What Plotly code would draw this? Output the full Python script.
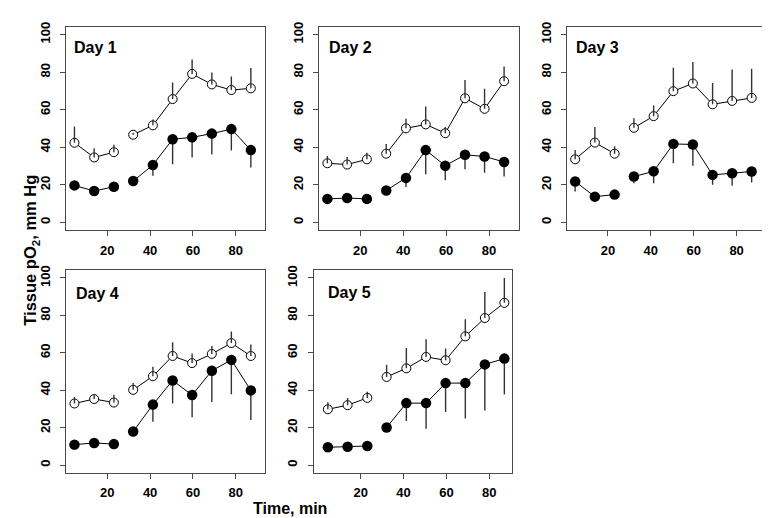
import plotly.graph_objects as go

W, H = 770, 518

time_min = [4.7, 13.9, 23.1, 32.1, 41.3, 50.5, 59.6, 68.8, 77.9, 87.0]
day_labels = ["Day 1", "Day 2", "Day 3", "Day 4", "Day 5"]

open_day1 = [42.4, 34.6, 37.4, 46.7, 51.7, 65.7, 79.1, 73.5, 70.5, 71.4]
open_err_day1 = [8.7, 4.9, 3.9, 1.0, 3.1, 8.8, 7.7, 6.3, 7.2, 10.8]
filled_day1 = [19.7, 16.7, 19.0, 22.0, 30.6, 44.3, 45.3, 47.3, 49.7, 38.5]
filled_err_day1 = [1.0, 1.0, 1.0, 2.3, 5.8, 13.4, 10.7, 11.1, 11.4, 9.2]

open_day2 = [31.5, 30.8, 33.6, 36.6, 50.1, 52.2, 47.5, 66.1, 60.5, 75.2]
open_err_day2 = [3.8, 4.0, 3.5, 5.1, 5.1, 9.5, 3.3, 9.8, 10.7, 7.8]
filled_day2 = [12.5, 13.0, 12.5, 17.0, 23.7, 38.5, 30.2, 36.0, 35.1, 32.2]
filled_err_day2 = [1.0, 1.0, 1.0, 1.5, 4.9, 12.8, 7.7, 7.7, 8.7, 7.8]

open_day3 = [33.6, 42.5, 36.6, 50.4, 56.6, 69.9, 74.0, 62.9, 64.7, 66.3]
open_err_day3 = [4.9, 8.3, 4.0, 5.1, 5.6, 12.5, 11.4, 11.4, 16.8, 15.6]
filled_day3 = [21.8, 13.7, 14.8, 24.4, 27.2, 41.8, 41.5, 25.3, 26.2, 27.1]
filled_err_day3 = [5.3, 1.0, 1.0, 3.5, 6.3, 10.3, 11.3, 5.3, 6.7, 5.8]

open_day4 = [32.9, 35.3, 33.4, 40.2, 47.5, 58.3, 54.5, 59.4, 65.2, 58.3]
open_err_day4 = [3.5, 2.5, 4.2, 3.6, 5.0, 7.3, 5.1, 4.2, 6.2, 6.2]
filled_day4 = [10.9, 11.8, 11.2, 17.9, 32.3, 45.2, 37.4, 50.4, 56.2, 39.9]
filled_err_day4 = [1.0, 1.0, 1.0, 2.6, 9.1, 12.3, 11.9, 16.7, 18.4, 15.8]

open_day5 = [29.8, 32.0, 35.9, 47.1, 51.7, 57.8, 56.0, 68.8, 78.6, 86.7]
open_err_day5 = [3.8, 3.9, 3.3, 6.5, 10.8, 9.5, 6.3, 9.1, 13.9, 13.3]
filled_day5 = [9.5, 9.8, 10.2, 20.1, 33.1, 33.1, 43.8, 43.8, 53.8, 56.9]
filled_err_day5 = [1.0, 1.0, 1.0, 1.5, 9.6, 13.7, 15.4, 18.9, 24.7, 19.2]

x_tick_vals = [20, 40, 60, 80]
y_tick_vals = [0, 20, 40, 60, 80, 100]

open_series = [open_day1, open_day2, open_day3, open_day4, open_day5]
open_errs = [open_err_day1, open_err_day2, open_err_day3, open_err_day4, open_err_day5]
filled_series = [filled_day1, filled_day2, filled_day3, filled_day4, filled_day5]
filled_errs = [filled_err_day1, filled_err_day2, filled_err_day3, filled_err_day4, filled_err_day5]

# panel boxes in pixels: (left, right, top, bottom)
boxes = [(58.3, 257.0, 14.3, 219.0), (311.0, 510.7, 14.3, 219.0), (559.0, 758.0, 14.3, 219.0),
         (58.3, 257.0, 260.0, 464.0), (305.7, 504.3, 260.0, 464.0)]
xranges = [[0.9, 93.6], [0.8, 93.8], [0.9, 93.7], [0.9, 93.6], [-1.9, 90.7]]
label_pos = [(64, 34.5), (319, 34.5), (566, 34.5), (66, 283), (318, 282)]

segments = [(0, 3), (3, 10)]
FONT = "Liberation Sans, Arial, sans-serif"
ERRC = "#333333"
BOXC = "#4a4a4a"

fig = go.Figure()
layout = dict(width=W, height=H, margin=dict(l=0, r=0, t=0, b=0),
              paper_bgcolor="white", plot_bgcolor="white", showlegend=False,
              font=dict(family=FONT, color="black"))
annotations = []

for i in range(5):
    ax = "" if i == 0 else str(i + 1)
    xa, ya = "x" + ax, "y" + ax
    n = len(time_min)
    # filled-series error bars (below)
    fig.add_trace(go.Scatter(x=time_min, y=filled_series[i], xaxis=xa, yaxis=ya, mode="markers",
                             marker=dict(size=1, color="rgba(0,0,0,0)"), hoverinfo="skip",
                             error_y=dict(type="data", symmetric=False, array=[0] * n,
                                          arrayminus=filled_errs[i], width=0, color=ERRC, thickness=1.4)))
    for (a, b) in segments:
        fig.add_trace(go.Scatter(x=time_min[a:b], y=filled_series[i][a:b], xaxis=xa, yaxis=ya,
                                 mode="lines+markers", line=dict(color="black", width=1),
                                 marker=dict(symbol="circle", size=10.5, color="black",
                                             line=dict(width=0))))
        fig.add_trace(go.Scatter(x=time_min[a:b], y=open_series[i][a:b], xaxis=xa, yaxis=ya,
                                 mode="lines+markers", line=dict(color="black", width=1),
                                 marker=dict(symbol="circle", size=9, color="white",
                                             line=dict(width=1, color="black"))))
    # open-series error bars (on top, visible inside the hollow circle)
    fig.add_trace(go.Scatter(x=time_min, y=open_series[i], xaxis=xa, yaxis=ya, mode="markers",
                             marker=dict(size=1, color="rgba(0,0,0,0)"), hoverinfo="skip",
                             error_y=dict(type="data", symmetric=False, array=open_errs[i],
                                          arrayminus=[0] * n, width=0, color=ERRC, thickness=1.4)))

    l, r, t, btm = boxes[i]
    common = dict(showline=True, mirror=True, linecolor=BOXC, linewidth=1.3, showgrid=False,
                  zeroline=False, ticks="outside", ticklen=5, tickwidth=1, tickcolor=BOXC,
                  tickfont=dict(family=FONT, size=13, color="black", weight="bold"))
    layout["xaxis" + ax] = dict(domain=[l / W, r / W], range=xranges[i], anchor=ya,
                                tickvals=x_tick_vals, ticklabelstandoff=3, **common)
    layout["yaxis" + ax] = dict(domain=[1 - btm / H, 1 - t / H], range=[-4, 104], anchor=xa,
                                tickvals=y_tick_vals, tickangle=-90, ticklabelstandoff=5, **common)
    lx, ly = label_pos[i]
    annotations.append(dict(text=day_labels[i], x=lx / W, y=1 - ly / H, xref="paper", yref="paper",
                            xanchor="left", yanchor="middle", showarrow=False,
                            font=dict(family=FONT, size=16, color="black", weight="bold")))

annotations.append(dict(text="Time, min", x=282 / W, y=1 - 500.5 / H, xref="paper", yref="paper",
                        xanchor="center", yanchor="middle", showarrow=False,
                        font=dict(family=FONT, size=16, color="black", weight="bold")))
annotations.append(dict(text="Tissue pO<sub>2</sub>, mm Hg", x=23 / W, y=1 - 240 / H, xref="paper",
                        yref="paper", xanchor="center", yanchor="middle", showarrow=False, textangle=-90,
                        font=dict(family=FONT, size=16.5, color="black", weight="bold")))
layout["annotations"] = annotations
fig.update_layout(**layout)
fig.write_html("out.html")
